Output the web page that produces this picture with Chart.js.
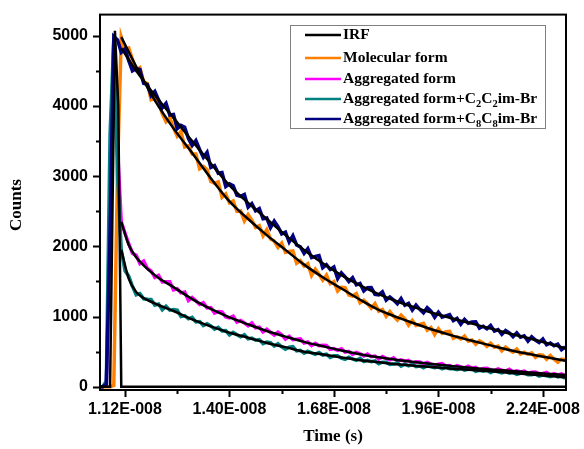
<!DOCTYPE html>
<html>
<head>
<meta charset="utf-8">
<script src="https://cdn.jsdelivr.net/npm/chart.js@4.4.1/dist/chart.umd.min.js"></script>
<style>
  html, body { margin: 0; padding: 0; background: #fff; }
  canvas { display: block; }
</style>
</head>
<body>
<canvas id="myChart" width="584" height="449"></canvas>
<script>
// time axis in ns (labels are shown as x 1e-8 s)
var timeNs = [10.5, 10.6, 10.7, 10.8, 10.9,
  11.0, 11.1, 11.2, 11.3, 11.4, 11.5, 11.6, 11.7, 11.8, 11.9,
  12.0, 12.1, 12.2, 12.3, 12.4, 12.5, 12.6, 12.7, 12.8, 12.9,
  13.0, 13.1, 13.2, 13.3, 13.4, 13.5, 13.6, 13.7, 13.8, 13.9,
  14.0, 14.1, 14.2, 14.3, 14.4, 14.5, 14.6, 14.7, 14.8, 14.9,
  15.0, 15.1, 15.2, 15.3, 15.4, 15.5, 15.6, 15.7, 15.8, 15.9,
  16.0, 16.1, 16.2, 16.3, 16.4, 16.5, 16.6, 16.7, 16.8, 16.9,
  17.0, 17.1, 17.2, 17.3, 17.4, 17.5, 17.6, 17.7, 17.8, 17.9,
  18.0, 18.1, 18.2, 18.3, 18.4, 18.5, 18.6, 18.7, 18.8, 18.9,
  19.0, 19.1, 19.2, 19.3, 19.4, 19.5, 19.6, 19.7, 19.8, 19.9,
  20.0, 20.1, 20.2, 20.3, 20.4, 20.5, 20.6, 20.7, 20.8, 20.9,
  21.0, 21.1, 21.2, 21.3, 21.4, 21.5, 21.6, 21.7, 21.8, 21.9,
  22.0, 22.1, 22.2, 22.3, 22.4, 22.5, 22.6, 22.7, 22.8, 22.9,
  23.0];

var molecularCounts = [0, 0, 0, 0, 20,
  3100, 4980, 4808, 4826, 4665, 4512, 4544, 4344, 4320, 4088,
  4104, 4064, 3888, 3776, 3832, 3688, 3570, 3636, 3414, 3432,
  3314, 3314, 3106, 3138, 3090, 2922, 2896, 2918, 2700, 2746,
  2619, 2646, 2498, 2504, 2363, 2453, 2372, 2270, 2294, 2150,
  2237, 2104, 2076, 1985, 2048, 1915, 1929, 1936, 1761, 1796,
  1719, 1753, 1584, 1674, 1603, 1518, 1591, 1468, 1499, 1362,
  1417, 1412, 1308, 1293, 1327, 1196, 1233, 1182, 1120, 1185,
  1078, 1102, 1003, 1071, 1005, 951, 1021, 969, 878, 947,
  873, 888, 903, 808, 845, 744, 828, 762, 785, 791,
  693, 715, 681, 723, 649, 667, 606, 653, 624, 575,
  622, 565, 580, 511, 566, 525, 494, 539, 468, 493,
  462, 484, 418, 456, 450, 392, 446, 392, 350, 396,
  385];

var aggregatedCounts = [0, 0, 30, 2400, 4950,
  3400, 2350, 2190, 2038, 1902, 1872, 1754, 1790, 1686, 1650,
  1558, 1588, 1493, 1496, 1495, 1379, 1395, 1338, 1350, 1230,
  1271, 1226, 1173, 1198, 1124, 1128, 1051, 1073, 1066, 996,
  983, 1005, 922, 944, 910, 869, 910, 841, 851, 782,
  820, 775, 738, 779, 742, 680, 721, 671, 677, 683,
  625, 638, 587, 621, 585, 591, 589, 534, 545, 520,
  543, 494, 505, 463, 491, 470, 438, 467, 430, 439,
  395, 431, 405, 385, 413, 368, 384, 365, 378, 337,
  357, 353, 326, 349, 324, 304, 324, 331, 297, 304,
  279, 303, 285, 269, 293, 265, 277, 241, 262, 266,
  241, 230, 256, 238, 223, 250, 211, 227, 212, 225,
  190, 209, 211, 185, 190, 206, 168, 189, 171, 186,
  157];

var c2c2Counts = [0, 0, 80, 3600, 4950,
  3000, 1950, 1652, 1576, 1432, 1310, 1329, 1254, 1248, 1244,
  1164, 1180, 1098, 1149, 1092, 1100, 1092, 1000, 1012, 968,
  990, 925, 929, 873, 898, 866, 821, 848, 797, 800,
  740, 777, 742, 713, 741, 682, 694, 664, 673, 616,
  637, 628, 580, 616, 571, 535, 564, 572, 511, 519,
  480, 507, 484, 463, 490, 453, 465, 419, 442, 444,
  409, 392, 423, 397, 377, 406, 359, 377, 358, 371,
  328, 351, 351, 319, 324, 342, 296, 322, 300, 320,
  288, 297, 272, 300, 288, 272, 284, 257, 284, 259,
  258, 243, 264, 239, 249, 256, 222, 236, 224, 237,
  203, 228, 215, 199, 218, 194, 204, 176, 193, 197,
  172, 173, 187, 154, 168, 158, 144, 168, 141, 150,
  124];

var c8c8Counts = [0, 0, 40, 2200, 4990,
  4940, 4764, 4812, 4644, 4500, 4532, 4518, 4320, 4306, 4148,
  4206, 4086, 3974, 4038, 3870, 3878, 3676, 3722, 3696, 3534,
  3436, 3508, 3380, 3268, 3340, 3124, 3150, 3040, 3050, 2852,
  2891, 2862, 2728, 2713, 2740, 2557, 2609, 2507, 2538, 2394,
  2404, 2267, 2361, 2280, 2178, 2202, 2062, 2153, 2020, 1992,
  1901, 1968, 1839, 1857, 1868, 1697, 1740, 1671, 1707, 1540,
  1623, 1567, 1499, 1553, 1452, 1473, 1365, 1412, 1414, 1317,
  1309, 1354, 1234, 1279, 1236, 1182, 1258, 1162, 1189, 1093,
  1164, 1103, 1054, 1127, 1078, 990, 1063, 993, 1011, 1029,
  943, 974, 892, 960, 905, 923, 927, 836, 863, 826,
  875, 793, 816, 747, 801, 769, 715, 770, 707, 726,
  650, 713, 667, 630, 680, 598, 624, 586, 607, 529,
  568];

// instrument response
var irfTime = [10.5, 10.8, 10.93, 11.02, 11.1, 23.0];
var irfCounts = [0, 0, 5070, 4000, 0, 0];

// fitted decays (black lines)
var fitTime = [11.1, 11.3, 11.5, 12.0, 12.5, 13.0, 13.5, 14.0, 14.5, 15.0, 15.5, 16.0, 16.5,
  17.0, 17.5, 18.0, 18.5, 19.0, 19.5, 20.0, 20.5, 21.0, 21.5, 22.0, 22.5, 23.0];
var molecularFit = [4980, 4770, 4560, 4080, 3680, 3330, 2970, 2640, 2390, 2160, 1950, 1740, 1560,
  1400, 1240, 1095, 990, 895, 805, 725, 655, 590, 525, 470, 420, 370];
var aggregatedFit = [2350, 2020, 1845, 1590, 1420, 1250, 1110, 990, 890, 795, 715, 640, 578,
  518, 465, 420, 383, 350, 322, 295, 270, 248, 228, 208, 188, 168];
var c2c2Fit = [1950, 1540, 1350, 1188, 1080, 960, 860, 770, 700, 625, 565, 500, 460,
  418, 380, 350, 320, 298, 278, 258, 240, 222, 200, 180, 158, 138];
var c8c8Fit = [4820, 4660, 4500, 4150, 3830, 3500, 3180, 2870, 2620, 2390, 2160, 1950, 1760,
  1590, 1445, 1320, 1215, 1125, 1045, 970, 900, 830, 760, 695, 625, 550];

var xMajorTicks = [11.2, 14.0, 16.8, 19.6, 22.4];
var xMinorTicks = [12.6, 15.4, 18.2, 21.0];
var yMajorTicks = [0, 1000, 2000, 3000, 4000, 5000];
var yMinorTicks = [500, 1500, 2500, 3500, 4500];

var legendItems = [
  { color: '#000000', parts: [['IRF', 0]] },
  { color: '#ff8000', parts: [['Molecular form', 0]] },
  { color: '#ff00ff', parts: [['Aggregated form', 0]] },
  { color: '#008080', parts: [['Aggregated form+C', 0], ['2', 1], ['C', 0], ['2', 1], ['im-Br', 0]] },
  { color: '#000080', parts: [['Aggregated form+C', 0], ['8', 1], ['C', 0], ['8', 1], ['im-Br', 0]] }
];

function toPoints(xs, ys) {
  return xs.map(function (x, i) { return { x: x, y: ys[i] }; });
}

function dataLine(label, color, xs, ys, order, width) {
  return {
    label: label,
    data: toPoints(xs, ys),
    borderColor: color,
    borderWidth: width,
    pointRadius: 0,
    tension: 0,
    borderJoinStyle: 'miter',
    order: order
  };
}

function fitLine(ys) {
  return {
    label: 'fit',
    data: toPoints(fitTime, ys),
    borderColor: '#000000',
    borderWidth: 2.5,
    pointRadius: 0,
    cubicInterpolationMode: 'monotone',
    order: 0
  };
}

var serif = '"Liberation Serif", "Times New Roman", serif';

// frame, tick marks, axis titles and legend
var decorPlugin = {
  id: 'decor',
  afterDraw: function (chart) {
    var ctx = chart.ctx;
    var a = chart.chartArea;
    var xs = chart.scales.x, ys = chart.scales.y;
    ctx.save();
    ctx.strokeStyle = '#000';
    ctx.lineWidth = 2;
    ctx.strokeRect(a.left, a.top, a.right - a.left, a.bottom - a.top);

    ctx.lineWidth = 2;
    ctx.beginPath();
    yMajorTicks.forEach(function (v) {
      var y = Math.round(ys.getPixelForValue(v)) + 0.5;
      ctx.moveTo(a.left - 7, y); ctx.lineTo(a.left, y);
    });
    yMinorTicks.forEach(function (v) {
      var y = Math.round(ys.getPixelForValue(v)) + 0.5;
      ctx.moveTo(a.left - 4, y); ctx.lineTo(a.left, y);
    });
    xMajorTicks.forEach(function (v) {
      var x = Math.round(xs.getPixelForValue(v)) + 0.5;
      ctx.moveTo(x, a.bottom); ctx.lineTo(x, a.bottom + 7);
    });
    xMinorTicks.forEach(function (v) {
      var x = Math.round(xs.getPixelForValue(v)) + 0.5;
      ctx.moveTo(x, a.bottom); ctx.lineTo(x, a.bottom + 4);
    });
    ctx.stroke();

    // axis titles
    ctx.fillStyle = '#000';
    ctx.font = 'bold 17px ' + serif;
    ctx.textAlign = 'center';
    ctx.textBaseline = 'middle';
    ctx.fillText('Time (s)', (a.left + a.right) / 2, 437);
    ctx.save();
    ctx.translate(17, 205);
    ctx.rotate(-Math.PI / 2);
    ctx.fillText('Counts', 0, 0);
    ctx.restore();

    // legend
    ctx.strokeStyle = '#808080';
    ctx.lineWidth = 1;
    ctx.strokeRect(290.5, 25.5, 255, 103);
    var rows = [35, 58, 79, 99, 119];
    ctx.textAlign = 'left';
    legendItems.forEach(function (item, i) {
      var y = rows[i];
      ctx.strokeStyle = item.color;
      ctx.lineWidth = 2.5;
      ctx.beginPath();
      ctx.moveTo(305, y); ctx.lineTo(341, y);
      ctx.stroke();
      var tx = 343;
      item.parts.forEach(function (p) {
        ctx.font = p[1] ? 'bold 10.5px ' + serif : 'bold 15.5px ' + serif;
        ctx.fillText(p[0], tx, p[1] ? y + 5 : y);
        tx += ctx.measureText(p[0]).width;
      });
    });
    ctx.restore();
  }
};

var ctx = document.getElementById('myChart').getContext('2d');
window.myChart = new Chart(ctx, {
  type: 'line',
  data: {
    datasets: [
      fitLine(molecularFit),
      fitLine(aggregatedFit),
      fitLine(c2c2Fit),
      fitLine(c8c8Fit),
      dataLine('IRF', '#000000', irfTime, irfCounts, 1, 2.5),
      dataLine('Aggregated form+C8C8im-Br', '#000080', timeNs, c8c8Counts, 2, 3.5),
      dataLine('Aggregated form+C2C2im-Br', '#008080', timeNs, c2c2Counts, 3, 3.5),
      dataLine('Aggregated form', '#ff00ff', timeNs, aggregatedCounts, 4, 3.5),
      dataLine('Molecular form', '#ff8000', timeNs, molecularCounts, 5, 3.5)
    ]
  },
  options: {
    responsive: false,
    animation: false,
    layout: { padding: { left: 0, right: 18, top: 11, bottom: 0 } },
    plugins: { legend: { display: false }, tooltip: { enabled: false } },
    scales: {
      x: {
        type: 'linear',
        min: 10.53,
        max: 23.02,
        grid: { color: 'transparent', drawOnChartArea: false, tickLength: 7 },
        border: { display: false },
        afterFit: function (s) { s.height = 59; },
        afterBuildTicks: function (s) { s.ticks = xMajorTicks.map(function (v) { return { value: v }; }); },
        ticks: {
          maxRotation: 0,
          padding: 3,
          color: '#000',
          font: { family: '"Liberation Sans", Arial, sans-serif', size: 16, weight: 'bold' },
          callback: function (v) { return (v / 10).toFixed(2) + 'E-008'; }
        }
      },
      y: {
        min: -45,
        max: 5300,
        grid: { color: 'transparent', drawOnChartArea: false, tickLength: 7 },
        border: { display: false },
        afterFit: function (s) { s.width = 100; },
        afterBuildTicks: function (s) { s.ticks = yMajorTicks.map(function (v) { return { value: v }; }); },
        ticks: {
          padding: 5,
          color: '#000',
          font: { family: '"Liberation Sans", Arial, sans-serif', size: 16, weight: 'bold' },
          callback: function (v) { return String(v); }
        }
      }
    }
  },
  plugins: [decorPlugin]
});
</script>
</body>
</html>
